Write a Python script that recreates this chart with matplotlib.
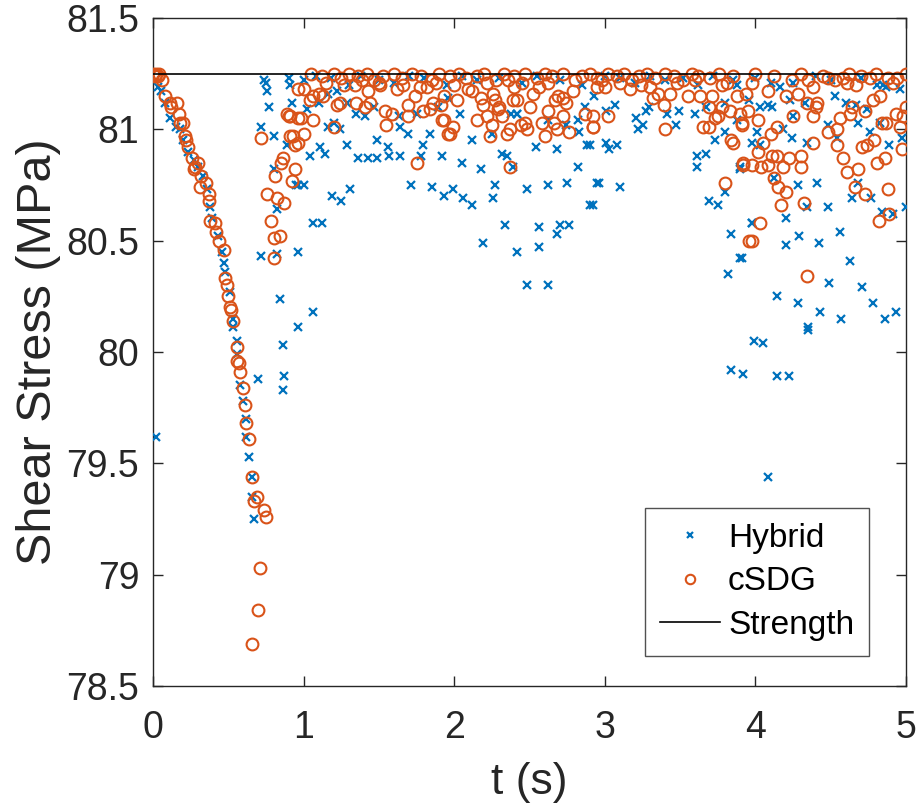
import matplotlib
matplotlib.use("Agg")
import matplotlib.pyplot as plt

plt.rcParams['font.family'] = ['Liberation Sans', 'DejaVu Sans']

# ---------------- data ----------------
strength = 81.25
t_range = [0, 5]

hybrid_t = [
    0.02, 0.03, 0.05, 0.08, 0.11, 0.15, 0.18, 0.20, 0.23, 0.27, 0.30, 0.33, 0.36, 0.38, 0.39,
    0.43, 0.46, 0.47, 0.48, 0.51, 0.53, 0.53, 0.56, 0.56, 0.58, 0.60, 0.62, 0.62, 0.64, 0.66,
    0.66, 0.67, 0.70, 0.86, 0.87, 0.86,
    0.74, 0.75, 0.76, 0.77, 0.72, 0.80, 0.90, 0.91, 0.92, 0.89, 0.80, 0.82, 0.95, 0.72, 0.82,
    0.96, 0.84, 0.96, 1.06,
    1.02, 1.10, 1.16, 1.22, 1.29, 1.35, 1.41, 1.47, 1.63, 1.64, 1.69, 1.75, 1.84, 1.89, 1.16,
    1.20, 1.24, 1.04, 1.11, 1.14, 1.29, 1.36, 1.43, 1.49, 1.49, 1.56, 1.57, 1.64, 1.79, 1.78,
    1.92, 0.96, 1.00, 1.19, 1.25, 1.31, 1.71, 1.85, 1.93, 1.06, 1.12,
    1.96, 2.04, 2.12, 2.05, 1.99, 2.06, 2.12, 2.18, 2.25, 2.27, 2.26, 2.32, 2.35, 2.39, 2.42,
    2.34, 2.19, 2.42, 2.48, 2.62, 2.48, 2.54, 2.56, 2.56, 2.62, 2.68, 2.68, 2.70, 2.76, 2.75,
    2.82, 2.88, 2.90, 2.95, 2.82, 2.83, 2.87, 2.93, 2.38, 2.42, 2.62, 2.74,
    3.01, 3.07, 3.21, 3.22, 3.25, 3.27, 3.29, 3.41, 3.49, 3.47, 3.60, 3.67, 3.80, 3.88, 3.88,
    3.73, 3.80, 3.01, 3.03, 3.08, 2.90, 3.61, 3.67, 3.61, 2.96, 3.10, 2.92, 3.69, 3.75, 3.80,
    3.90, 3.84, 3.90, 3.82, 3.98,
    3.99, 4.05, 3.84, 3.92, 4.14, 4.22, 4.08, 4.35,
    4.10, 4.16, 3.96, 4.03, 4.08, 4.11, 4.23, 4.33, 4.53, 4.60, 4.67, 4.74, 4.81, 4.87, 4.96,
    4.25, 4.01, 3.98, 4.03, 4.18, 4.24, 4.34, 4.48, 4.54, 4.68, 4.76, 4.83, 4.89, 4.97, 3.90,
    4.12, 4.28, 4.41, 4.64, 4.68, 4.77, 4.34, 4.48, 4.84, 4.91, 5.00, 3.98, 4.20, 4.56, 4.29,
    4.20, 4.42, 3.91, 4.63, 4.49, 4.71, 4.14, 4.28, 4.43, 4.57, 4.78, 4.86, 4.93, 4.35,
    1.00, 1.08, 1.18, 1.30, 1.38, 1.50, 1.60, 1.70, 1.80, 1.95, 2.05, 2.15, 2.30, 2.45, 2.55,
    2.70, 2.85, 3.00, 3.10, 3.20, 3.30, 3.40, 3.52, 3.62, 3.72, 3.85, 4.00, 4.25, 4.40, 4.50,
    4.70, 4.85,
]
hybrid_y = [
    79.62, 81.19, 81.17, 81.12, 81.05, 81.01, 81.00, 80.95, 80.90, 80.86, 80.83, 80.79, 80.73, 80.65, 80.60,
    80.52, 80.45, 80.40, 80.36, 80.27, 80.15, 80.11, 80.05, 79.99, 79.85, 79.78, 79.70, 79.62, 79.53, 79.44,
    79.35, 79.25, 79.88, 80.03, 79.89, 79.83,
    81.22, 81.21, 81.17, 81.10, 81.01, 80.97, 81.23, 81.20, 81.12, 80.93, 80.82, 80.64, 80.75, 80.43, 80.44,
    80.45, 80.24, 80.11, 80.18,
    81.09, 81.12, 81.16, 81.17, 81.12, 81.07, 81.06, 81.10, 81.06, 81.01, 80.98, 81.07, 80.98, 81.10, 81.01,
    81.03, 81.00, 80.88, 80.92, 80.89, 80.93, 80.87, 80.87, 80.87, 80.95, 80.92, 80.88, 80.88, 80.93, 80.88,
    80.88, 80.75, 80.75, 80.70, 80.68, 80.73, 80.75, 80.74, 80.70, 80.58, 80.58,
    81.14, 81.07, 80.95, 80.85, 80.73, 80.69, 80.66, 80.82, 80.98, 80.75, 80.69, 80.89, 80.88, 80.83, 81.07,
    80.57, 80.49, 80.45, 80.30, 80.30, 80.73, 80.92, 80.56, 80.47, 80.75, 80.91, 80.53, 80.57, 80.57, 80.76,
    80.83, 80.93, 80.66, 80.76, 81.04, 80.99, 81.10, 81.15, 81.07, 81.07, 81.04, 81.02,
    81.08, 81.11, 81.05, 81.00, 81.02, 81.08, 81.10, 81.07, 81.08, 81.02, 81.07, 81.10, 81.12, 81.20, 81.04,
    80.95, 80.99, 80.94, 80.91, 80.93, 80.93, 80.88, 80.89, 80.83, 80.76, 80.74, 80.66, 80.68, 80.66, 80.72,
    80.82, 80.53, 80.42, 80.35, 80.58,
    80.05, 80.04, 79.92, 79.90, 79.89, 79.89, 79.44, 80.10,
    81.21, 81.19, 81.13, 81.10, 81.11, 81.10, 81.13, 81.12, 81.15, 81.12, 81.11, 81.09, 81.20, 81.19, 81.18,
    81.06, 80.99, 80.94, 80.93, 81.00, 80.96, 80.94, 81.02, 80.96, 81.03, 80.99, 81.03, 80.93, 80.96, 80.83,
    80.78, 80.75, 80.76, 80.69, 80.76, 80.69, 80.65, 80.65, 80.63, 80.62, 80.65, 80.58, 80.60, 80.54, 80.52,
    80.48, 80.49, 80.42, 80.41, 80.31, 80.29, 80.25, 80.22, 80.18, 80.15, 80.22, 80.15, 80.18, 80.11,
    81.22, 81.24, 81.23, 81.20, 81.24, 81.22, 81.21, 81.24, 81.23, 81.20, 81.24, 81.22, 81.23, 81.21, 81.24,
    81.22, 81.20, 81.24, 81.23, 81.21, 81.24, 81.22, 81.23, 81.20, 81.24, 81.22, 81.23, 81.21, 81.24, 81.22,
    81.23, 81.20,
]

csdg_t = [
    0.00, 0.01, 0.02, 0.03, 0.04, 0.06, 0.08, 0.11, 0.16, 0.12, 0.17, 0.20, 0.18, 0.21, 0.22,
    0.23, 0.26, 0.30, 0.28, 0.27, 0.32, 0.35, 0.31, 0.37, 0.37, 0.38, 0.41, 0.42, 0.44, 0.47,
    0.48, 0.49, 0.50, 0.51, 0.52, 0.53, 0.56, 0.56, 0.57, 0.58, 0.60, 0.61, 0.62, 0.64, 0.66,
    0.69, 0.67, 0.74, 0.75, 0.71, 0.70, 0.66,
    0.96, 0.89, 0.90, 0.96, 0.72, 0.91, 0.94, 0.86, 0.85, 0.94, 0.92, 0.81, 0.76, 0.82, 0.87,
    0.78, 0.84, 0.80, 0.80,
    1.00, 1.04, 1.06, 1.10, 1.13, 1.22, 1.24, 1.35, 1.43, 1.44, 1.41, 1.54, 1.59, 1.55, 1.69,
    1.69, 1.74, 1.79, 1.84, 1.86, 1.91, 1.92, 1.93, 1.77, 1.82, 1.51, 1.62, 1.34, 0.91, 0.98,
    1.06, 0.93, 0.96, 1.00, 1.20, 1.75, 1.96,
    2.02, 2.09, 2.12, 2.18, 2.19, 2.22, 2.26, 2.27, 2.30, 2.29, 2.39, 2.42, 2.40, 2.45, 2.50,
    2.52, 2.56, 2.67, 2.69, 2.72, 2.74, 2.79, 1.93, 1.99, 1.97, 2.15, 2.22, 2.25, 2.24, 2.32,
    2.35, 2.37, 2.44, 2.47, 2.48, 2.62, 2.58, 2.66, 2.68, 2.72, 2.76, 2.60, 2.87, 2.92, 2.37,
    2.92, 2.92, 3.02, 2.95, 3.00, 3.17, 3.30, 3.32, 3.35, 3.39, 3.40, 3.43, 3.55, 3.63, 3.71,
    3.69, 3.65, 3.69, 3.73, 3.75, 3.78, 3.83, 3.90, 3.91, 3.88, 3.94, 3.81, 3.84, 3.85, 3.92,
    3.80, 3.96,
    3.98, 4.08, 4.20, 4.24, 4.28, 4.35, 4.38, 4.34, 4.41, 4.40, 4.38, 4.48, 4.53, 4.58, 4.61,
    4.67, 4.76, 4.91, 4.94, 4.78, 4.83, 4.64, 4.63, 4.56, 4.73, 4.93, 4.98, 5.00, 4.84, 4.87,
    4.96, 4.25, 4.14, 4.10, 4.02, 3.95, 3.91, 4.48, 4.54, 4.38, 4.54, 4.05, 4.02, 4.11, 4.14,
    4.22, 4.30, 4.30, 4.18, 4.08, 4.04, 3.98, 3.92, 4.58, 4.61, 4.68, 4.71, 4.74, 4.79, 4.81,
    4.86, 4.97, 4.12, 4.15, 4.20, 4.17, 4.32, 4.66, 4.73, 4.88, 4.82, 4.89, 4.03, 3.98, 4.34,
    1.05, 1.12, 1.20, 1.25, 1.30, 1.36, 1.42, 1.47, 1.53, 1.60, 1.65, 1.72, 1.78, 1.85, 1.90,
    1.97, 2.03, 2.08, 2.15, 2.20, 2.28, 2.33, 2.40, 2.47, 2.55, 2.60, 2.65, 2.72, 2.80, 2.85,
    2.90, 2.95, 3.02, 3.08, 3.13, 3.18, 3.23, 3.28, 3.33, 3.40, 3.46, 3.52, 3.58, 3.62, 3.70,
    3.76, 3.85, 4.00, 4.12, 4.30, 4.45, 4.62, 4.70, 4.80, 4.88, 5.00,
    1.15, 1.27, 1.39, 1.50, 1.66, 1.88, 2.00, 2.36, 2.62, 2.98, 3.10, 3.24, 3.48, 3.60, 3.78,
]
csdg_y = [
    81.25, 81.24, 81.25, 81.24, 81.25, 81.22, 81.15, 81.12, 81.12, 81.10, 81.07, 81.03, 81.03, 80.97, 80.95,
    80.92, 80.87, 80.85, 80.83, 80.82, 80.79, 80.76, 80.74, 80.71, 80.68, 80.59, 80.58, 80.54, 80.50, 80.46,
    80.33, 80.30, 80.25, 80.20, 80.19, 80.14, 80.02, 79.96, 79.95, 79.91, 79.84, 79.76, 79.68, 79.61, 79.44,
    79.35, 79.33, 79.29, 79.26, 79.03, 78.84, 78.69,
    81.18, 81.07, 81.06, 81.05, 80.96, 80.97, 80.93, 80.87, 80.85, 80.82, 80.77, 80.79, 80.71, 80.69, 80.67,
    80.59, 80.52, 80.51, 80.42,
    81.18, 81.13, 81.15, 81.16, 81.15, 81.11, 81.12, 81.12, 81.17, 81.12, 81.10, 81.08, 81.07, 81.02, 81.06,
    81.11, 81.15, 81.08, 81.09, 81.12, 81.11, 81.04, 81.15, 81.19, 81.19, 81.20, 81.18, 81.20, 81.06, 81.05,
    81.04, 80.97, 80.94, 80.98, 81.01, 80.85, 80.98,
    81.13, 81.18, 81.17, 81.14, 81.11, 81.21, 81.16, 81.13, 81.10, 81.09, 81.13, 81.13, 81.19, 81.21, 81.10,
    81.16, 81.19, 81.13, 81.15, 81.14, 81.12, 81.17, 81.04, 81.01, 80.98, 81.04, 81.06, 81.02, 80.97, 81.06,
    80.98, 81.00, 81.02, 81.03, 81.00, 81.08, 81.03, 81.03, 81.00, 81.06, 80.99, 80.97, 81.07, 81.01, 80.83,
    81.06, 81.01, 81.06, 81.19, 81.19, 81.18, 81.19, 81.14, 81.16, 81.11, 81.00, 81.16, 81.15, 81.15, 81.15,
    81.10, 81.01, 81.01, 81.05, 81.06, 81.10, 81.08, 81.07, 81.02, 81.15, 81.16, 81.21, 80.95, 80.94, 80.85,
    80.76, 80.50,
    81.21, 81.17, 81.15, 81.22, 81.16, 81.22, 81.19, 81.12, 81.12, 81.10, 81.06, 81.23, 81.22, 81.23, 81.21,
    81.20, 81.23, 81.21, 81.23, 81.13, 81.15, 81.10, 81.07, 81.05, 81.08, 81.07, 81.06, 81.10, 81.03, 81.03,
    81.01, 81.06, 81.01, 80.98, 81.04, 81.08, 81.03, 80.99, 81.00, 80.94, 80.93, 80.94, 80.90, 80.88, 80.88,
    80.87, 80.88, 80.83, 80.83, 80.84, 80.83, 80.84, 80.84, 80.87, 80.81, 80.82, 80.92, 80.93, 80.95, 80.85,
    80.87, 80.91, 80.78, 80.74, 80.72, 80.66, 80.67, 80.74, 80.71, 80.73, 80.59, 80.62, 80.58, 80.50, 80.34,
    81.25, 81.24, 81.25, 81.23, 81.25, 81.24, 81.25, 81.22, 81.24, 81.25, 81.23, 81.25, 81.24, 81.22, 81.25,
    81.24, 81.25, 81.23, 81.24, 81.25, 81.22, 81.25, 81.24, 81.25, 81.23, 81.25, 81.24, 81.25, 81.22, 81.24,
    81.25, 81.23, 81.25, 81.24, 81.25, 81.22, 81.24, 81.25, 81.23, 81.25, 81.24, 81.22, 81.25, 81.24, 81.23,
    81.25, 81.24, 81.25, 81.24, 81.25, 81.24, 81.25, 81.24, 81.25, 81.23, 81.25,
    81.21, 81.20, 81.22, 81.21, 81.20, 81.21, 81.20, 81.22, 81.21, 81.22, 81.21, 81.20, 81.21, 81.22, 81.20,
]

x_ticks = [0, 1, 2, 3, 4, 5]
y_ticks = [78.5, 79, 79.5, 80, 80.5, 81, 81.5]
y_tick_labels = ['78.5', '79', '79.5', '80', '80.5', '81', '81.5']

# ---------------- plot ----------------
blue = (0.0, 0.447, 0.741)
orange = (0.850, 0.325, 0.098)
dark = '#262626'

fig = plt.figure(figsize=(9.18, 8.06), dpi=100)
ax = fig.add_axes([0.1667, 0.149, 0.8203, 0.8287])

ax.plot(hybrid_t, hybrid_y, linestyle='none', marker='x', markersize=6,
        markeredgewidth=1.6, color=blue, label='Hybrid', zorder=3)
ax.plot(csdg_t, csdg_y, linestyle='none', marker='o', markersize=8.5,
        markerfacecolor='none', markeredgewidth=1.5, markeredgecolor=orange,
        label='cSDG', zorder=4)
ax.plot(t_range, [strength, strength], color='black', linewidth=1.2,
        label='Strength', zorder=5)

ax.set_xlim(0, 5)
ax.set_ylim(78.5, 81.5)
ax.set_xticks(x_ticks)
ax.set_yticks(y_ticks)
ax.set_yticklabels(y_tick_labels)
ax.tick_params(direction='in', length=7, width=1, labelsize=27, colors=dark,
               top=True, right=True)
ax.tick_params(axis='y', pad=10)
ax.tick_params(axis='x', pad=17)
for s in ax.spines.values():
    s.set_color(dark)
    s.set_linewidth(1.0)

ax.set_xlabel('t (s)', fontsize=32, color=dark, labelpad=12)
ax.set_ylabel('Shear Stress (MPa)', fontsize=35, color=dark, labelpad=4)

leg = ax.legend(loc='lower right', bbox_to_anchor=(0.951, 0.045), borderaxespad=0,
                fontsize=24, frameon=True, fancybox=False, edgecolor=dark,
                handlelength=1.8, handletextpad=0.25, borderpad=0.45,
                labelspacing=0.38, markerscale=0.8)
leg.get_frame().set_linewidth(1.0)

fig.savefig('out.png', dpi=100)
